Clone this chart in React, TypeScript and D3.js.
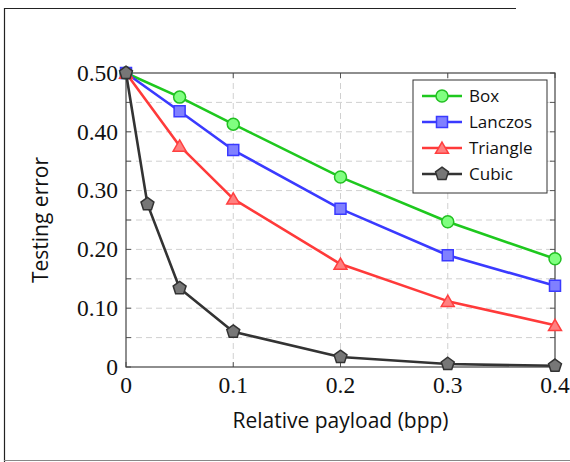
import React from "react";
import * as d3 from "d3";

const payload = [0, 0.05, 0.1, 0.2, 0.3, 0.4];
const cubicPayload = [0, 0.02, 0.05, 0.1, 0.2, 0.3, 0.4];
const boxErr = [0.5, 0.459, 0.413, 0.323, 0.247, 0.184];
const lanczosErr = [0.5, 0.435, 0.369, 0.269, 0.19, 0.138];
const triangleErr = [0.5, 0.376, 0.286, 0.175, 0.112, 0.071];
const cubicErr = [0.5, 0.277, 0.134, 0.06, 0.017, 0.005, 0.002];
const xTicks = [0, 0.1, 0.2, 0.3, 0.4];
const xTickLabels = ["0", "0.1", "0.2", "0.3", "0.4"];
const yTicks = [0, 0.1, 0.2, 0.3, 0.4, 0.5];
const yTickLabels = ["0", "0.10", "0.20", "0.30", "0.40", "0.50"];
const yMinor = [0.05, 0.15, 0.25, 0.35, 0.45];
const seriesNames = ["Box", "Lanczos", "Triangle", "Cubic"];

const W = 570, H = 462;
const L = 126, R = 555, T = 73, B = 367;

export default function App() {
  const x = d3.scaleLinear().domain([0, 0.4]).range([L, R]);
  const y = d3.scaleLinear().domain([0, 0.5]).range([B, T]);

  const series = [
    { name: seriesNames[0], xs: payload, ys: boxErr, stroke: "#1ec81e", fill: "#80ff80", mstroke: "#22c022", marker: "circle" },
    { name: seriesNames[1], xs: payload, ys: lanczosErr, stroke: "#3a3aff", fill: "#8080ff", mstroke: "#3a3aff", marker: "square" },
    { name: seriesNames[2], xs: payload, ys: triangleErr, stroke: "#ff3a3a", fill: "#ff8080", mstroke: "#ff4040", marker: "triangle" },
    { name: seriesNames[3], xs: cubicPayload, ys: cubicErr, stroke: "#333333", fill: "#777777", mstroke: "#333333", marker: "pentagon" },
  ];

  const line = d3.line<[number, number]>().x((d) => x(d[0])).y((d) => y(d[1]));

  const markerPath = (type: string, cx: number, cy: number) => {
    if (type === "circle") return null;
    if (type === "square") {
      const s = 5.5;
      return `M${cx - s},${cy - s}H${cx + s}V${cy + s}H${cx - s}Z`;
    }
    if (type === "triangle") {
      const r = 7.5;
      const pts = [0, 1, 2].map((i) => {
        const a = -Math.PI / 2 + (i * 2 * Math.PI) / 3;
        return [cx + r * Math.cos(a), cy + 1.5 + r * Math.sin(a)];
      });
      return "M" + pts.map((p) => p.join(",")).join("L") + "Z";
    }
    const r = 6.8;
    const pts = [0, 1, 2, 3, 4].map((i) => {
      const a = -Math.PI / 2 + (i * 2 * Math.PI) / 5;
      return [cx + r * Math.cos(a), cy + r * Math.sin(a)];
    });
    return "M" + pts.map((p) => p.join(",")).join("L") + "Z";
  };

  const renderMarker = (s: any, cx: number, cy: number, key: string) => {
    if (s.marker === "circle")
      return <circle key={key} cx={cx} cy={cy} r={6} fill={s.fill} stroke={s.mstroke} strokeWidth={1.5} />;
    return <path key={key} d={markerPath(s.marker, cx, cy) as string} fill={s.fill} stroke={s.mstroke} strokeWidth={1.5} strokeLinejoin="miter" />;
  };

  const serif = "'Liberation Serif', 'DejaVu Serif', serif";
  const sans = "'Open Sans', 'DejaVu Sans', sans-serif";

  const legX = 413, legY = 80, legW = 134, legH = 113;

  return (
    <svg width={W} height={H} style={{ position: "absolute", left: 0, top: 0, background: "#fff" }}>
      <rect x={0} y={0} width={W} height={H} fill="#fff" />
      {/* page frame */}
      <line x1={4.5} y1={8} x2={4.5} y2={H} stroke="#222" strokeWidth={1.2} />
      <line x1={4} y1={8.5} x2={516} y2={8.5} stroke="#222" strokeWidth={1.2} />
      <line x1={4} y1={460.5} x2={W} y2={460.5} stroke="#888" strokeWidth={1.2} />

      {/* grid */}
      {[...yTicks, ...yMinor].filter((v) => v > 0 && v < 0.5).map((v, i) => (
        <line key={"gy" + i} x1={L} x2={R} y1={y(v)} y2={y(v)} stroke="#d0d0d0" strokeWidth={1} strokeDasharray="6,4" />
      ))}
      {xTicks.filter((v) => v > 0 && v < 0.4).map((v, i) => (
        <line key={"gx" + i} x1={x(v)} x2={x(v)} y1={T} y2={B} stroke="#d0d0d0" strokeWidth={1} strokeDasharray="6,4" />
      ))}

      {/* ticks */}
      {[...yTicks, ...yMinor].map((v, i) => (
        <g key={"ty" + i}>
          <line x1={L} x2={L + 5} y1={y(v)} y2={y(v)} stroke="#555" strokeWidth={1} />
          <line x1={R} x2={R - 5} y1={y(v)} y2={y(v)} stroke="#555" strokeWidth={1} />
        </g>
      ))}
      {xTicks.map((v, i) => (
        <g key={"tx" + i}>
          <line x1={x(v)} x2={x(v)} y1={B} y2={B - 5} stroke="#555" strokeWidth={1} />
          <line x1={x(v)} x2={x(v)} y1={T} y2={T + 5} stroke="#555" strokeWidth={1} />
        </g>
      ))}

      {/* axis box */}
      <rect x={L} y={T} width={R - L} height={B - T} fill="none" stroke="#444" strokeWidth={1.2} />

      {/* tick labels */}
      {yTicks.map((v, i) => (
        <text key={"yl" + i} x={L - 8} y={y(v)} dy="0.33em" textAnchor="end" fontFamily={serif} fontSize={23.5} fill="#111">
          {yTickLabels[i]}
        </text>
      ))}
      {xTicks.map((v, i) => (
        <text key={"xl" + i} x={x(v)} y={B + 26} textAnchor="middle" fontFamily={serif} fontSize={23.5} fill="#111">
          {xTickLabels[i]}
        </text>
      ))}

      {/* axis labels */}
      <text x={(L + R) / 2} y={428} textAnchor="middle" fontFamily={sans} fontSize={21} fill="#111">
        Relative payload (bpp)
      </text>
      <text transform={`translate(48,${(T + B) / 2}) rotate(-90)`} textAnchor="middle" fontFamily={sans} fontSize={21} fill="#111">
        Testing error
      </text>

      {/* series */}
      {series.map((s) => {
        const pts = s.xs.map((v, i) => [v, s.ys[i]] as [number, number]);
        return (
          <g key={s.name}>
            <path d={line(pts) as string} fill="none" stroke={s.stroke} strokeWidth={2.6} strokeLinejoin="round" />
            {pts.map((p, i) => renderMarker(s, x(p[0]), y(p[1]), s.name + i))}
          </g>
        );
      })}

      {/* legend */}
      <rect x={legX} y={legY} width={legW} height={legH} fill="#fff" stroke="#333" strokeWidth={1} />
      {series.map((s, i) => {
        const cy = legY + 16 + i * 26;
        return (
          <g key={"lg" + s.name}>
            <line x1={legX + 9} x2={legX + 49} y1={cy} y2={cy} stroke={s.stroke} strokeWidth={2.6} />
            {renderMarker(s, legX + 29, cy, "lm" + i)}
            <text x={legX + 56} y={cy} dy="0.35em" fontFamily={sans} fontSize={17} fill="#111">
              {s.name}
            </text>
          </g>
        );
      })}
    </svg>
  );
}
